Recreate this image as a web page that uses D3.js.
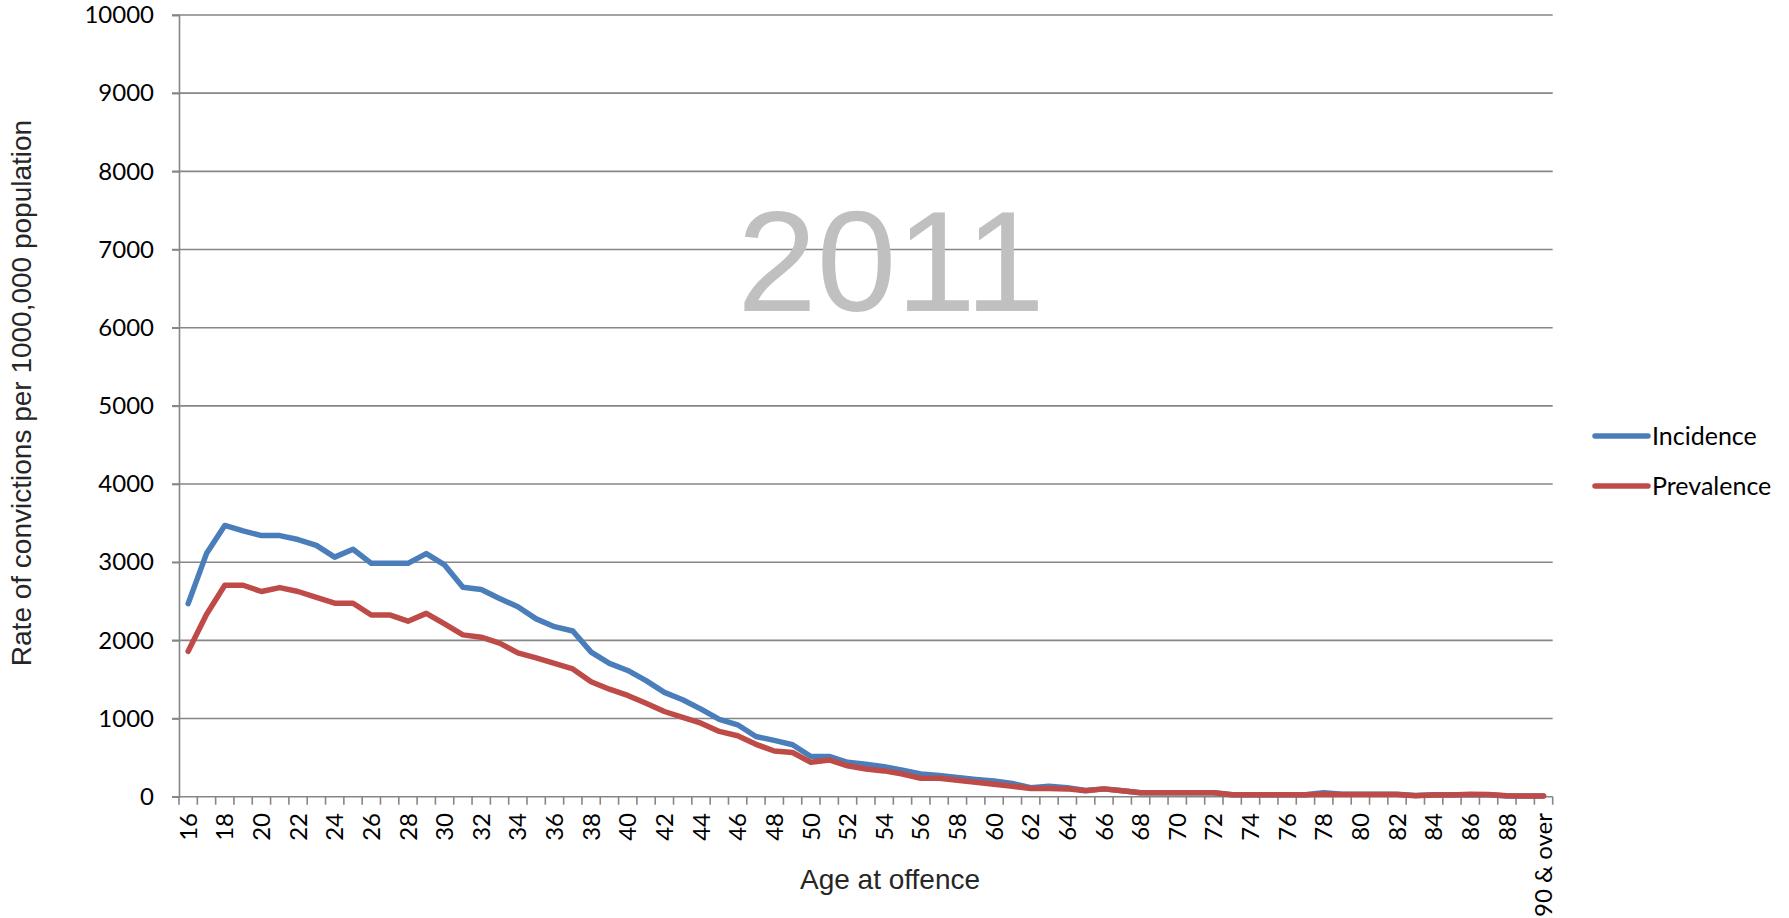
<!DOCTYPE html>
<html><head><meta charset="utf-8">
<script src="https://cdn.jsdelivr.net/npm/d3@7"></script>
<style>
html,body{margin:0;padding:0;background:#fff;}
svg{display:block;}
</style></head>
<body>
<svg id="chart" width="1789" height="918"></svg>
<script>
const ages = [];
for (let a = 16; a <= 89; a++) ages.push(String(a));
ages.push("90 & over");

const incidence = [2470,3110,3470,3400,3340,3340,3290,3215,3065,3165,2985,2985,2985,3110,2965,2680,2650,2535,2430,2275,2175,2120,1850,1705,1615,1485,1335,1240,1120,990,920,770,720,665,515,515,440,415,385,340,290,270,245,220,200,170,115,135,115,80,100,75,50,50,50,50,50,25,25,25,25,25,50,30,30,30,30,15,25,25,25,25,10,10,10];
const prevalence = [1860,2330,2705,2705,2625,2675,2625,2550,2475,2475,2325,2325,2245,2345,2210,2070,2040,1965,1840,1775,1705,1635,1470,1375,1295,1195,1090,1015,940,835,780,670,585,565,440,470,395,355,330,290,235,235,210,185,160,135,105,105,100,75,100,75,50,50,50,50,50,25,25,25,25,25,30,28,28,28,28,12,22,22,30,28,12,10,10];
const yTicks = [0,1000,2000,3000,4000,5000,6000,7000,8000,9000,10000];
const seriesNames = ["Incidence","Prevalence"];
const seriesColors = ["#4a7ebb","#be4b48"];

const svg = d3.select("#chart");
const L = 179, R = 1552.7, T = 15, B = 796.7;
const grid = "#868686";
const x = d3.scaleBand().domain(ages).range([L, R]).padding(0);
const y = d3.scaleLinear().domain([0, 10000]).range([B, T]);

// gridlines
svg.append("g").selectAll("line").data(yTicks.filter(d => d > 0)).join("line")
  .attr("x1", L - 7).attr("x2", R).attr("y1", d => y(d)).attr("y2", d => y(d))
  .attr("stroke", grid).attr("stroke-width", 1.6);

// Big year label
svg.append("text").attr("x", 891).attr("y", 311).attr("text-anchor", "middle")
  .attr("font-family", "Liberation Sans, Arial, sans-serif").attr("font-size", 143)
  .attr("fill", "#c0c0c0").text("2011");

// y axis
const yAxis = d3.axisLeft(y).tickValues(yTicks).tickFormat(d3.format("d")).tickSize(7).tickPadding(18);
const gy = svg.append("g").attr("transform", `translate(${L},0)`).call(yAxis);
gy.select(".domain").attr("stroke", grid).attr("stroke-width", 1.6);
gy.selectAll(".tick line").attr("stroke", grid).attr("stroke-width", 1.6);
gy.selectAll(".tick text").attr("font-family", "Lato, sans-serif").attr("font-size", 24).attr("fill", "#000");

// x axis baseline
svg.append("line").attr("x1", L - 7).attr("x2", R).attr("y1", B).attr("y2", B)
  .attr("stroke", grid).attr("stroke-width", 1.6);
// x ticks at band boundaries
const bounds = ages.map(a => x(a)).concat([R]);
svg.append("g").selectAll("line").data(bounds).join("line")
  .attr("x1", d => d).attr("x2", d => d).attr("y1", B).attr("y2", B + 8)
  .attr("stroke", grid).attr("stroke-width", 1.6);
// x labels every second category
svg.append("g").selectAll("text").data(ages.filter((a, i) => i % 2 === 0)).join("text")
  .attr("transform", d => `translate(${x(d) + x.bandwidth() / 2},813) rotate(-90)`)
  .attr("text-anchor", "end").attr("dy", "0.36em")
  .attr("font-family", "Lato, sans-serif").attr("font-size", 24).attr("fill", "#000")
  .text(d => d);

// lines
const line = d3.line().x((d, i) => x(ages[i]) + x.bandwidth() / 2).y(d => y(d));
[incidence, prevalence].forEach((s, k) => {
  svg.append("path").datum(s).attr("d", line).attr("fill", "none")
    .attr("stroke", seriesColors[k]).attr("stroke-width", 5.5)
    .attr("stroke-linejoin", "round").attr("stroke-linecap", "round");
});

// axis titles
svg.append("text").attr("transform", "translate(31,393) rotate(-90)").attr("text-anchor", "middle")
  .attr("font-family", "Liberation Sans, Arial, sans-serif").attr("font-size", 28).attr("fill", "#262626")
  .text("Rate of convictions per 1000,000 population");
svg.append("text").attr("x", 890).attr("y", 889).attr("text-anchor", "middle")
  .attr("font-family", "Liberation Sans, Arial, sans-serif").attr("font-size", 28).attr("fill", "#262626")
  .text("Age at offence");

// legend
const lg = svg.append("g");
seriesNames.forEach((n, k) => {
  const ly = 436 + k * 50;
  lg.append("line").attr("x1", 1595).attr("x2", 1648).attr("y1", ly).attr("y2", ly)
    .attr("stroke", seriesColors[k]).attr("stroke-width", 5.5).attr("stroke-linecap", "round");
  lg.append("text").attr("x", 1652).attr("y", ly).attr("dy", "0.36em")
    .attr("font-family", "Lato, sans-serif").attr("font-size", 25).attr("fill", "#000").text(n);
});
</script>
</body></html>
